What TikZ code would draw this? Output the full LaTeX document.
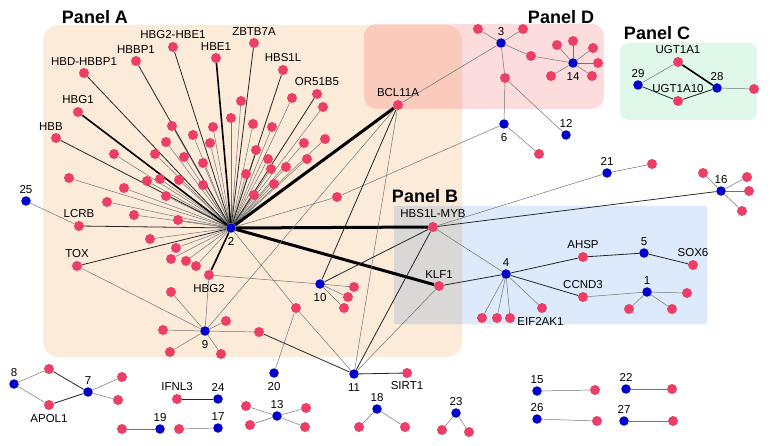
\documentclass[tikz,border=0pt]{standalone}
\usepackage{fontspec}
\setmainfont{Liberation Sans}
\definecolor{pinkdot}{RGB}{236,62,103}
\definecolor{bluedot}{RGB}{0,0,200}
\definecolor{panelA}{RGB}{253,235,218}
\definecolor{panelB}{RGB}{220,234,252}
\definecolor{panelC}{RGB}{224,248,233}
\definecolor{panelD}{RGB}{252,220,220}
\pgfdeclarelayer{panels}
\pgfdeclarelayer{edges}
\pgfsetlayers{panels,edges,main}
\tikzset{
  pk/.style={circle, fill=pinkdot, inner sep=0pt, minimum size=10pt},
  bl/.style={circle, fill=bluedot, inner sep=0pt, minimum size=9.5pt},
  la/.style={label={[label distance=1.5pt]above:#1}},
  lb/.style={label={[label distance=3.5pt]below:#1}},
  e/.style={draw=black!55, line width=0.5pt},
  ed/.style={draw=black!85, line width=0.8pt},
  ek/.style={draw=black, line width=1.6pt},
  ev/.style={draw=black, line width=3pt},
  paneltitle/.style={font=\bfseries\fontsize{18}{20}\selectfont}
}
\begin{document}
\begin{tikzpicture}[x=1pt, y=-1pt, every node/.style={font=\fontsize{11.5}{13}\selectfont}, every label/.style={inner sep=1pt}]
  \useasboundingbox (0,0) rectangle (770,446);
  % panels
  \begin{pgfonlayer}{panels}
    \fill[panelA, rounded corners=16pt] (43,25) rectangle (462,357);
    \begin{scope}[blend mode=multiply]
      \fill[panelD, rounded corners=12pt] (364,24) rectangle (604,109);
      \fill[panelB, rounded corners=2pt] (394,206) rectangle (707,324);
    \end{scope}
    \fill[panelC, rounded corners=8pt] (620,43) rectangle (757,120);
  \end{pgfonlayer}
  \node[paneltitle] (tA) at (95,17) {Panel A};
  \node[paneltitle] (tB) at (425,196) {Panel B};
  \node[paneltitle] (tC) at (657,33) {Panel C};
  \node[paneltitle] (tD) at (561,17) {Panel D};

  % hubs
  \node[bl, lb=2] (n2) at (231,228) {};
  \node[bl, la=3] (n3) at (501,43) {};
  \node[bl, lb=6] (n6) at (504,124) {};
  \node[bl, la=12] (n12) at (566,135) {};
  \node[bl, lb=14] (n14) at (573,63) {};
  \node[bl, la=16] (n16) at (721,191) {};
  \node[bl, la=21] (n21) at (607,173) {};
  \node[bl, la=25] (n25) at (26,201) {};
  \node[bl, la=28] (n28) at (717,88) {};
  \node[bl, la=29] (n29) at (638,85) {};
  \node[bl, la=4] (n4) at (506,274) {};
  \node[bl, la=5] (n5) at (644,253) {};
  \node[bl, la=1] (n1) at (647,292) {};
  \node[bl, lb=10] (n10) at (320,284) {};
  \node[bl, lb=9] (n9) at (205,331) {};
  \node[bl, lb=11] (n11) at (354,374) {};
  \node[bl, lb=20] (n20) at (274,373) {};
  \node[bl, la=8] (n8) at (14,384) {};
  \node[bl, la=7] (n7) at (88,392) {};
  \node[bl, la=24] (n24) at (218,399) {};
  \node[bl, la=19] (n19) at (160,429) {};
  \node[bl, la=17] (n17) at (218,428) {};
  \node[bl, la=13] (n13) at (277,416) {};
  \node[bl, la=18] (n18) at (377,409) {};
  \node[bl, la=23] (n23) at (456,413) {};
  \node[bl, la=15] (n15) at (537,391) {};
  \node[bl, la=26] (n26) at (537,419) {};
  \node[bl, la=22] (n22) at (626,389) {};
  \node[bl, la=27] (n27) at (624,421) {};

  % named genes
  \node[pk, la=HBD-HBBP1] (HBDHBBP1) at (84,73) {};
  \node[pk, la=HBBP1] (HBBP1) at (136,61) {};
  \node[pk, la=HBG2-HBE1] (HBG2HBE1) at (173,47) {};
  \node[pk, la=HBE1] (HBE1) at (216,58) {};
  \node[pk, la=ZBTB7A] (ZBTB7A) at (254,43) {};
  \node[pk, la=HBS1L] (HBS1L) at (283,70) {};
  \node[pk, la=OR51B5] (OR51B5) at (317,94) {};
  \node[pk, la=HBG1] (HBG1) at (78,112) {};
  \node[pk, label={[label distance=1.5pt, xshift=-5pt]above:HBB}] (HBB) at (56,138) {};
  \node[pk, la=LCRB] (LCRB) at (79,226) {};
  \node[pk, la=TOX] (TOX) at (77,266) {};
  \node[pk, lb=HBG2] (HBG2) at (209,275) {};
  \node[pk, la=BCL11A] (BCL11A) at (398,105) {};
  \node[pk, label={[label distance=2.5pt]above:HBS1L-MYB}] (MYB) at (433,227) {};
  \node[pk, la=KLF1] (KLF1) at (439,286) {};
  \node[pk, la=AHSP] (AHSP) at (583,257) {};
  \node[pk, la=SOX6] (SOX6) at (693,265) {};
  \node[pk, la=CCND3] (CCND3) at (583,297) {};
  \node[pk, label={[label distance=1pt, yshift=-3pt]right:EIF2AK1}] (EIF2AK1) at (510,318) {};
  \node[pk, la=UGT1A1] (UGT1A1) at (678,62) {};
  \node[pk, la=UGT1A10] (UGT1A10) at (678,101) {};
  \node[pk, lb=APOL1] (APOL1) at (49,405) {};
  \node[pk, la=IFNL3] (IFNL3) at (177,399) {};
  \node[pk, label={[label distance=2pt]below:SIRT1}] (SIRT1) at (407,373) {};

  % shared pink nodes
  \node[pk] (q41) at (337,197) {};
  \node[pk] (q42) at (296,308) {};
  \node[pk] (a6) at (259,332) {};
  \node[pk] (c3) at (531,56) {};
  \node[pk] (c4) at (505,78) {};
  \node[pk] (g1) at (49,369) {};

  % fan around 2
  \foreach \x/\y [count=\i] in {241/101, 231/118, 253/124, 213/127, 172/126,
      193/135, 210/143, 166/142, 256/150, 114/154, 155/154, 184/157, 203/163,
      246/174, 69/178, 147/181, 160/179, 179/180, 203/185, 124/188, 166/196,
      254/195, 107/202, 134/215, 178/220, 272/127, 292/98, 323/107, 268/159,
      271/169, 286/167, 274/184, 304/143, 325/139, 307/159, 150/239, 176/248,
      171/259, 186/261, 196/266}
    \node[pk] (f\i) at (\x,\y) {};

  % leaves
  \foreach \h/\x/\y [count=\i] in {n9/171/292, n9/163/330, n9/170/352, n9/221/354,
      n9/226/321, n10/354/287, n10/348/297, n10/344/308, n3/478/29, n3/523/29,
      n14/557/45, n14/573/41, n14/593/48, n14/598/63, n14/592/76, n14/551/76,
      n6/539/154, n21/652/164, n16/703/173, n16/747/177, n16/749/191, n16/742/211,
      n28/754/89, n4/482/318, n4/497/318, n4/542/308, n1/687/293, n1/629/309,
      n1/672/309, n7/122/377, n7/118/400, n19/122/429, n17/179/429, n13/246/406,
      n13/250/425, n13/306/408, n13/305/427, n18/359/427, n18/405/427,
      n23/442/430, n23/469/432, n15/595/390, n26/597/421, n22/672/389, n27/673/421}
  {
    \node[pk] (leaf\i) at (\x,\y) {};
    \begin{pgfonlayer}{edges}
      \draw[e] (\h) -- (leaf\i);
    \end{pgfonlayer}
  }

  \begin{pgfonlayer}{edges}
    \foreach \i in {1,...,40}
      \draw[e] (n2) -- (f\i);
    \foreach \g in {HBDHBBP1, HBBP1, HBG2HBE1, ZBTB7A, HBS1L, OR51B5, LCRB, TOX, HBB}
      \draw[ed] (n2) -- (\g);
    \foreach \g in {HBG1, HBE1, HBG2}
      \draw[ek] (n2) -- (\g);
    \foreach \g in {BCL11A, MYB, KLF1}
      \draw[ev] (n2) -- (\g);
    \draw[e] (n2) -- (q41) -- (n6);
    \draw[e] (n2) -- (q42) -- (n11);
    \draw[e] (q42) -- (n20);
    \draw[e] (n25) -- (LCRB);
    \draw[e] (TOX) -- (n9);
    \draw[e] (HBG2) -- (n9);
    \draw[e] (HBG2) -- (n10);
    \draw[e] (n9) -- (a6);
    \draw[ed] (a6) -- (n11);
    \draw[e] (BCL11A) -- (n9);
    \draw[ed] (BCL11A) -- (n10);
    \draw[e] (BCL11A) -- (n11);
    \draw[e] (BCL11A) -- (n3);
    \draw[ed] (MYB) -- (n10);
    \draw[ed] (MYB) -- (n11);
    \draw[e] (KLF1) -- (n11);
    \draw[e] (MYB) -- (n4);
    \draw[e] (MYB) -- (n21);
    \draw[ed] (MYB) -- (n16);
    \draw[ed] (KLF1) -- (n4);
    \draw[ed] (n11) -- (SIRT1);
    \draw[e] (n3) -- (c3) -- (n14);
    \draw[e] (n3) -- (c4) -- (n6);
    \draw[e] (c4) -- (n12);
    \draw[e] (n29) -- (UGT1A1);
    \draw[ek] (UGT1A1) -- (n28);
    \draw[ed] (n29) -- (UGT1A10) -- (n28);
    \draw[ed] (n4) -- (AHSP) -- (n5) -- (SOX6);
    \draw[ed] (n4) -- (CCND3);
    \draw[e] (CCND3) -- (n1);
    \draw[e] (n4) -- (EIF2AK1);
    \draw[e] (n8) -- (g1);
    \draw[e] (n8) -- (APOL1);
    \draw[ed] (g1) -- (n7);
    \draw[ed] (APOL1) -- (n7);
    \draw[ed] (IFNL3) -- (n24);
  \end{pgfonlayer}
\end{tikzpicture}
\end{document}
